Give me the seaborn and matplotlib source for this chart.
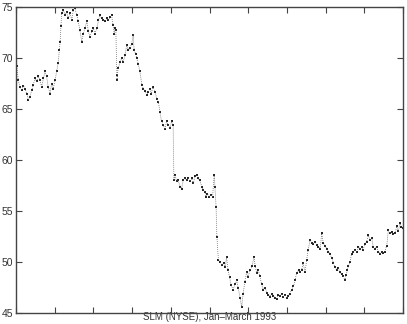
import matplotlib
matplotlib.use("Agg")
import matplotlib.pyplot as plt
import seaborn as sns
import pandas as pd

# time position (session units, 0..100) and price of SLM
t_seg1 = [0.2, 0.6, 1.0, 1.5, 1.9, 2.3, 2.8, 3.2, 3.6, 4.1, 4.5, 4.9, 5.3, 5.8, 6.2, 6.6, 7.1, 7.5, 7.9, 8.3,
          8.8, 9.2, 9.6, 10.1, 10.5, 10.9, 11.2, 11.4, 11.6, 11.8, 12.2, 12.7, 13.1, 13.5, 14.0, 14.4, 14.8,
          15.2, 15.7, 16.1, 16.5, 17.0, 17.4, 17.8, 18.3, 18.7, 19.1, 19.6, 20.0, 20.4, 20.9, 21.3, 21.7,
          22.1, 22.6, 23.0, 23.4, 23.9, 24.3, 24.7, 25.1, 25.4, 25.6, 25.8]
p_seg1 = [69.2, 67.8, 67.2, 66.9, 67.3, 67.0, 66.5, 65.9, 66.2, 66.9, 67.4, 68.0, 67.7, 68.2, 67.8, 67.2,
          68.0, 68.7, 68.2, 67.2, 66.5, 67.5, 67.0, 67.8, 68.7, 69.5, 70.8, 71.6, 73.1, 74.4, 74.7, 74.2,
          74.5, 73.9, 74.4, 73.7, 74.7, 74.9, 74.2, 73.6, 72.7, 71.6, 72.4, 72.9, 73.6, 72.6, 72.1, 72.6,
          72.9, 72.4, 72.9, 73.7, 74.2, 73.9, 73.7, 73.6, 73.9, 73.7, 74.0, 74.2, 73.2, 72.4, 72.9, 72.7]

t_seg2 = [26.1, 26.2, 26.4, 26.9, 27.3, 27.7, 28.2, 28.6, 29.0, 29.5, 29.9, 30.3, 30.5, 30.9, 31.2, 31.6,
          32.0, 32.5, 32.9, 33.3, 33.8, 34.2, 34.6, 35.0, 35.3, 35.9, 36.4, 36.8, 37.2, 37.6, 38.1, 38.5,
          38.9, 39.4, 39.8, 40.2, 40.6]
p_seg2 = [67.8, 68.3, 69.0, 69.6, 70.0, 69.6, 70.3, 71.3, 70.8, 71.0, 71.4, 72.3, 70.8, 70.4, 70.0, 69.4,
          68.7, 67.4, 67.0, 66.8, 66.4, 66.7, 67.0, 66.5, 67.2, 66.7, 66.0, 65.7, 64.7, 63.8, 63.4, 63.0,
          63.8, 63.4, 63.1, 63.8, 63.4]

t_seg3 = [40.8, 41.1, 41.5, 41.9, 42.4, 42.8, 43.2, 43.7, 44.1, 44.5, 45.0, 45.4, 45.8, 46.3, 46.7, 47.1,
          47.5, 48.0, 48.4, 48.8, 49.1, 49.4, 49.9, 50.3, 50.8, 51.2, 51.4, 51.7]
p_seg3 = [58.0, 58.5, 57.9, 58.0, 57.4, 57.2, 58.0, 58.2, 58.0, 58.2, 57.9, 58.2, 57.7, 58.4, 58.5, 58.2,
          58.0, 57.4, 57.1, 56.9, 56.4, 56.7, 56.4, 56.6, 56.4, 58.5, 57.4, 55.4]

t_seg4 = [51.9, 52.3, 52.7, 53.2, 53.7, 54.1, 54.4, 54.8, 55.2, 55.6, 56.1, 56.6, 57.0, 57.4, 57.9, 58.3,
          58.7, 59.1, 59.6, 59.9, 60.5, 61.0, 61.5, 61.8, 62.2, 62.6, 63.0, 63.5, 63.9, 64.3, 64.8, 65.2,
          65.6, 66.1, 66.5, 66.9, 67.4, 67.8, 68.2, 68.7, 69.1, 69.5, 69.9, 70.4, 70.8, 71.2, 71.7, 72.1,
          72.5, 73.0, 73.4, 73.8, 74.2, 74.7, 75.1, 75.5, 76.0, 76.4, 76.8, 77.3, 77.7, 78.1, 78.6, 79.0,
          79.4, 79.8, 80.3, 80.7, 81.1, 81.6, 82.0, 82.4, 82.9, 83.3, 83.7, 84.2, 84.6, 85.0, 85.3, 85.6,
          85.9, 86.3, 86.7, 87.2, 87.6, 88.0, 88.5, 88.9, 89.3, 89.7, 90.2, 90.6, 91.0, 91.5, 91.9, 92.3,
          92.8, 93.2, 93.6, 94.1, 94.5, 94.9, 95.3, 95.8, 96.2, 96.6, 97.1, 97.5, 97.9, 98.4, 98.8, 99.2,
          99.6, 99.9]
p_seg4 = [52.5, 50.2, 50.0, 49.7, 49.9, 49.5, 50.5, 49.2, 48.5, 47.7, 47.3, 47.8, 48.2, 47.5, 46.5, 45.6,
          46.9, 48.0, 49.0, 48.5, 49.2, 49.6, 50.5, 49.6, 48.9, 49.2, 48.6, 47.8, 47.3, 47.5, 47.0, 46.8,
          46.6, 46.9, 46.7, 46.5, 46.4, 46.8, 46.7, 46.9, 46.6, 46.8, 46.5, 46.7, 46.9, 47.3, 47.6, 48.2,
          48.9, 49.2, 49.0, 49.2, 49.9, 49.0, 50.2, 51.2, 52.2, 51.9, 51.8, 52.0, 51.7, 51.5, 51.3, 52.8,
          51.9, 51.6, 51.3, 51.0, 50.8, 50.4, 49.9, 49.5, 49.2, 49.4, 49.0, 48.8, 48.6, 48.2, 48.7, 49.2,
          49.6, 50.0, 50.8, 51.0, 51.2, 51.0, 51.5, 51.3, 51.5, 51.2, 51.8, 52.0, 52.6, 52.2, 52.4, 51.5,
          51.3, 51.5, 51.0, 50.8, 51.0, 50.9, 51.0, 51.6, 53.1, 52.8, 52.9, 52.7, 52.8, 53.5, 53.0, 53.8,
          53.4, 53.3]

y_ticks = [45, 50, 55, 60, 65, 70, 75]
x_ticks = [0, 10, 20, 30, 40, 50, 60, 70, 80, 90, 100]
xlabel = "SLM (NYSE), Jan\u2013March 1993"

sns.set_style("white")
plt.rcParams["font.family"] = ["Liberation Sans", "DejaVu Sans"]

df = pd.DataFrame({
    "t": t_seg1 + t_seg2 + t_seg3 + t_seg4,
    "price": p_seg1 + p_seg2 + p_seg3 + p_seg4,
})

fig = plt.figure(figsize=(4.07, 3.24), dpi=100)
ax = fig.add_axes([16 / 407, 11 / 324, 387 / 407, 306 / 324])

sns.lineplot(data=df, x="t", y="price", ax=ax, color="#555555",
             linewidth=0.55, linestyle=(0, (1, 1.6)), estimator=None, sort=False)
sns.scatterplot(data=df, x="t", y="price", ax=ax, color="#222222", s=0.8,
                linewidth=0, marker="s")

ax.set_xlim(0, 100)
ax.set_ylim(45, 75)
ax.set_xticks(x_ticks)
ax.set_xticklabels([])
ax.set_yticks(y_ticks)
ax.set_yticklabels([str(v) for v in y_ticks], fontsize=7.5, color="#333333")
ax.tick_params(axis="both", direction="in", length=4, width=0.8, color="#444444",
               top=True, right=True, bottom=True, left=True, pad=2)
ax.tick_params(axis="x", pad=0)
ax.set_xlabel(xlabel, fontsize=7, color="#333333", labelpad=-0.6)
ax.set_ylabel("")
for s in ax.spines.values():
    s.set_color("#444444")
    s.set_linewidth(1.0)

fig.savefig("out.png", dpi=100)
